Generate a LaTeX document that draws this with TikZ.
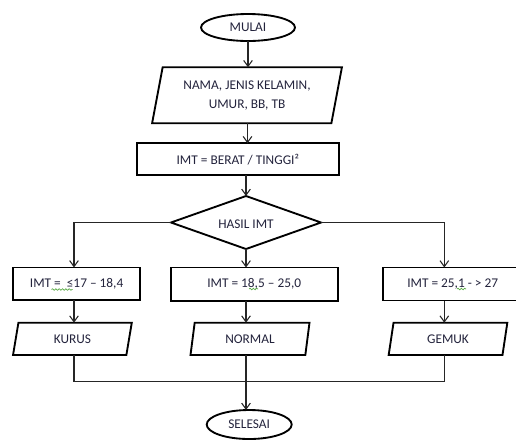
\documentclass[tikz,border=0pt]{standalone}
\usepackage{fontspec}
\setmainfont{Carlito}
\usetikzlibrary{shapes.geometric,arrows.meta,decorations.pathmorphing}
\definecolor{txt}{RGB}{35,35,60}
\definecolor{squigcol}{RGB}{90,170,70}
\begin{document}
\begin{tikzpicture}[x=0.75pt,y=-0.75pt,
  font=\fontsize{10}{14.5}\selectfont, text=txt,
  shp/.style={draw=black, line width=1.4pt, inner sep=0pt, outer sep=0pt, align=center},
  procbox/.style={shp, rectangle},
  term/.style={shp, ellipse},
  iobig/.style={shp, trapezium, trapezium left angle=75, trapezium right angle=105, trapezium stretches=true},
  iosmall/.style={shp, trapezium, trapezium left angle=78, trapezium right angle=102, trapezium stretches=true, minimum width=89.25pt, minimum height=24.2pt},
  decis/.style={shp, diamond, aspect=2.8},
  conn/.style={draw=black!85, line width=0.8pt},
  arr/.style={conn, -{Straight Barb[length=4.5pt,width=6.5pt]}},
  squig/.style={draw=squigcol, line width=0.5pt, decorate, decoration={snake, amplitude=0.6pt, segment length=2.5pt}}
]
\useasboundingbox (0,0) rectangle (516,440);
\clip (0,0) rectangle (516,440);

% nodes
\node[term, minimum width=70.5pt, minimum height=20.25pt] (mulai) at (248,27.5) {MULAI};
\node[iobig, minimum width=142.5pt, minimum height=42pt] (input) at (247,95.3) {NAMA, JENIS KELAMIN,\\UMUR, BB, TB};
\node[procbox, minimum width=151.7pt, minimum height=23.8pt] (rumus) at (237.8,159.2) {IMT = BERAT / TINGGI²};
\node[decis, minimum width=112.5pt, minimum height=39.75pt] (hasil) at (246,222.5) {};
\node (hasiltxt) at (246,224) {HASIL IMT};

\node[procbox, minimum width=95pt, minimum height=24.4pt] (box1) at (76.6,283.75) {IMT = \ ≤17 – 18,4};
\node[procbox, minimum width=125.25pt, minimum height=25.1pt] (box2) at (254.2,284.25) {IMT = 18,5 – 25,0};
\node[procbox, minimum width=105pt, minimum height=24.75pt] (box3) at (452.7,284) {IMT = 25,1 - > 27};

\node[iosmall] (kurus) at (72.4,338.85) {KURUS};
\node[iosmall] (normal) at (250,338.85) {NORMAL};
\node[iosmall] (gemuk) at (448,338.85) {GEMUK};

\node[term, minimum width=63.75pt, minimum height=21.75pt] (selesai) at (249.2,424.5) {SELESAI};

% axis coordinates
\coordinate (axL) at (74,0);
\coordinate (axM) at (247.5,0);
\coordinate (axR) at (444.3,0);
\coordinate (merge) at (247.5,381.7);

% connectors
\draw[arr] (mulai.south) -- (mulai.south |- input.north);
\draw[arr] (axM |- input.south) -- (axM |- rumus.north);
\draw[arr] (hasil.north |- rumus.south) -- (hasil.north);
\draw[arr] (hasil.west) -| (axL |- box1.north);
\draw[arr] (hasil.south) -- (hasil.south |- box2.north);
\draw[arr] (hasil.east) -| (axR |- box3.north);
\draw[arr] (axL |- box1.south) -- (axL |- kurus.north);
\draw[arr] (hasil.south |- box2.south) -- (hasil.south |- normal.north);
\draw[arr] (axR |- box3.south) -- (axR |- gemuk.north);
\draw[conn] (axL |- kurus.south) |- (axR |- merge) -- (axR |- gemuk.south);
\draw[arr] (hasil.south |- normal.south) -- (hasil.south |- selesai.north);

% spelling squiggles
\draw[squig] (51.5,289.5) -- (72.5,289.5);
\draw[squig] (249,289) -- (258,289);
\draw[squig] (457,289) -- (466,289);
\end{tikzpicture}
\end{document}
